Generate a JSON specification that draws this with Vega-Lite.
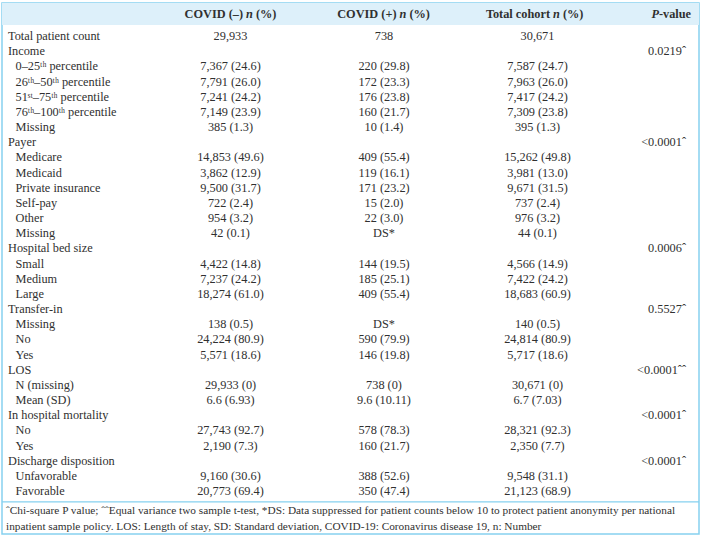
{
  "$schema": "https://vega.github.io/schema/vega-lite/v6.json",
  "width": 701,
  "height": 536,
  "autosize": {"type": "fit", "contains": "padding"},
  "padding": {"left": 1, "right": 1, "top": 3, "bottom": 2},
  "background": "white",
  "config": {
    "view": {"stroke": "#86d1ef", "strokeWidth": 1.5},
    "text": {"font": "Liberation Serif", "fontSize": 12.3, "color": "#303030"}
  },
  "datasets": {
    "table": [
      {"r": 0, "label": "Total patient count", "lvl": "g", "neg": "29,933", "pos": "738", "tot": "30,671", "p": ""},
      {"r": 1, "label": "Income", "lvl": "g", "neg": "", "pos": "", "tot": "", "p": "0.0219ˆ"},
      {"r": 2, "label": "0–25ᵗʰ percentile", "lvl": "s", "neg": "7,367 (24.6)", "pos": "220 (29.8)", "tot": "7,587 (24.7)", "p": ""},
      {"r": 3, "label": "26ᵗʰ–50ᵗʰ percentile", "lvl": "s", "neg": "7,791 (26.0)", "pos": "172 (23.3)", "tot": "7,963 (26.0)", "p": ""},
      {"r": 4, "label": "51ˢᵗ–75ᵗʰ percentile", "lvl": "s", "neg": "7,241 (24.2)", "pos": "176 (23.8)", "tot": "7,417 (24.2)", "p": ""},
      {"r": 5, "label": "76ᵗʰ–100ᵗʰ percentile", "lvl": "s", "neg": "7,149 (23.9)", "pos": "160 (21.7)", "tot": "7,309 (23.8)", "p": ""},
      {"r": 6, "label": "Missing", "lvl": "s", "neg": "385 (1.3)", "pos": "10 (1.4)", "tot": "395 (1.3)", "p": ""},
      {"r": 7, "label": "Payer", "lvl": "g", "neg": "", "pos": "", "tot": "", "p": "<0.0001ˆ"},
      {"r": 8, "label": "Medicare", "lvl": "s", "neg": "14,853 (49.6)", "pos": "409 (55.4)", "tot": "15,262 (49.8)", "p": ""},
      {"r": 9, "label": "Medicaid", "lvl": "s", "neg": "3,862 (12.9)", "pos": "119 (16.1)", "tot": "3,981 (13.0)", "p": ""},
      {"r": 10, "label": "Private insurance", "lvl": "s", "neg": "9,500 (31.7)", "pos": "171 (23.2)", "tot": "9,671 (31.5)", "p": ""},
      {"r": 11, "label": "Self-pay", "lvl": "s", "neg": "722 (2.4)", "pos": "15 (2.0)", "tot": "737 (2.4)", "p": ""},
      {"r": 12, "label": "Other", "lvl": "s", "neg": "954 (3.2)", "pos": "22 (3.0)", "tot": "976 (3.2)", "p": ""},
      {"r": 13, "label": "Missing", "lvl": "s", "neg": "42 (0.1)", "pos": "DS*", "tot": "44 (0.1)", "p": ""},
      {"r": 14, "label": "Hospital bed size", "lvl": "g", "neg": "", "pos": "", "tot": "", "p": "0.0006ˆ"},
      {"r": 15, "label": "Small", "lvl": "s", "neg": "4,422 (14.8)", "pos": "144 (19.5)", "tot": "4,566 (14.9)", "p": ""},
      {"r": 16, "label": "Medium", "lvl": "s", "neg": "7,237 (24.2)", "pos": "185 (25.1)", "tot": "7,422 (24.2)", "p": ""},
      {"r": 17, "label": "Large", "lvl": "s", "neg": "18,274 (61.0)", "pos": "409 (55.4)", "tot": "18,683 (60.9)", "p": ""},
      {"r": 18, "label": "Transfer-in", "lvl": "g", "neg": "", "pos": "", "tot": "", "p": "0.5527ˆ"},
      {"r": 19, "label": "Missing", "lvl": "s", "neg": "138 (0.5)", "pos": "DS*", "tot": "140 (0.5)", "p": ""},
      {"r": 20, "label": "No", "lvl": "s", "neg": "24,224 (80.9)", "pos": "590 (79.9)", "tot": "24,814 (80.9)", "p": ""},
      {"r": 21, "label": "Yes", "lvl": "s", "neg": "5,571 (18.6)", "pos": "146 (19.8)", "tot": "5,717 (18.6)", "p": ""},
      {"r": 22, "label": "LOS", "lvl": "g", "neg": "", "pos": "", "tot": "", "p": "<0.0001ˆˆ"},
      {"r": 23, "label": "N (missing)", "lvl": "s", "neg": "29,933 (0)", "pos": "738 (0)", "tot": "30,671 (0)", "p": ""},
      {"r": 24, "label": "Mean (SD)", "lvl": "s", "neg": "6.6 (6.93)", "pos": "9.6 (10.11)", "tot": "6.7 (7.03)", "p": ""},
      {"r": 25, "label": "In hospital mortality", "lvl": "g", "neg": "", "pos": "", "tot": "", "p": "<0.0001ˆ"},
      {"r": 26, "label": "No", "lvl": "s", "neg": "27,743 (92.7)", "pos": "578 (78.3)", "tot": "28,321 (92.3)", "p": ""},
      {"r": 27, "label": "Yes", "lvl": "s", "neg": "2,190 (7.3)", "pos": "160 (21.7)", "tot": "2,350 (7.7)", "p": ""},
      {"r": 28, "label": "Discharge disposition", "lvl": "g", "neg": "", "pos": "", "tot": "", "p": "<0.0001ˆ"},
      {"r": 29, "label": "Unfavorable", "lvl": "s", "neg": "9,160 (30.6)", "pos": "388 (52.6)", "tot": "9,548 (31.1)", "p": ""},
      {"r": 30, "label": "Favorable", "lvl": "s", "neg": "20,773 (69.4)", "pos": "350 (47.4)", "tot": "21,123 (68.9)", "p": ""}
    ],
    "header": [
      {"col": "neg", "pre": "COVID (–)"},
      {"col": "pos", "pre": "COVID (+)"},
      {"col": "tot", "pre": "Total cohort"}
    ],
    "notes": [
      {"r": 31.32, "t": "ˆChi-square P value; ˆˆEqual variance two sample t-test, *DS: Data suppressed for patient counts below 10 to protect patient anonymity per national"},
      {"r": 32.38, "t": "inpatient sample policy. LOS: Length of stay, SD: Standard deviation, COVID-19: Coronavirus disease 19, n: Number"}
    ]
  },
  "data": {"name": "table"},
  "layer": [
    {
      "data": {"values": [{"band": "header"}]},
      "mark": {"type": "rect", "color": "#ddf0fa"},
      "encoding": {
        "y": {"datum": -2.176, "type": "quantitative", "scale": {"domain": [-2.176, 32.835], "reverse": true, "nice": false, "zero": false}, "axis": null},
        "y2": {"datum": -0.725}
      }
    },
    {
      "data": {"values": [{"line": "sep"}]},
      "mark": {"type": "rule", "color": "#86d1ef", "strokeWidth": 1.2},
      "encoding": {"y": {"datum": 30.72, "type": "quantitative"}}
    },
    {
      "data": {"name": "header"},
      "mark": {"type": "text", "fontWeight": "bold", "align": "right", "dx": 12.5},
      "encoding": {
        "x": {"field": "col", "type": "nominal", "scale": {"type": "point", "domain": ["label", "neg", "pos", "tot", "p"], "range": [75, 689], "padding": 0}, "axis": null},
        "y": {"datum": -1.45, "type": "quantitative"},
        "text": {"field": "pre"}
      }
    },
    {
      "data": {"name": "header"},
      "mark": {"type": "text", "fontWeight": "bold", "fontStyle": "italic", "align": "center", "dx": 19},
      "encoding": {
        "x": {"field": "col", "type": "nominal"},
        "y": {"datum": -1.45, "type": "quantitative"},
        "text": {"value": "n"}
      }
    },
    {
      "data": {"name": "header"},
      "mark": {"type": "text", "fontWeight": "bold", "align": "left", "dx": 25.4},
      "encoding": {
        "x": {"field": "col", "type": "nominal"},
        "y": {"datum": -1.45, "type": "quantitative"},
        "text": {"value": "(%)"}
      }
    },
    {
      "data": {"values": [{"t": "-value"}]},
      "mark": {"type": "text", "fontWeight": "bold", "align": "right"},
      "encoding": {
        "x": {"datum": "p", "type": "nominal"},
        "y": {"datum": -1.45, "type": "quantitative"},
        "text": {"field": "t"}
      }
    },
    {
      "data": {"values": [{"t": "P"}]},
      "mark": {"type": "text", "fontWeight": "bold", "fontStyle": "italic", "align": "right", "dx": -32},
      "encoding": {
        "x": {"datum": "p", "type": "nominal"},
        "y": {"datum": -1.45, "type": "quantitative"},
        "text": {"field": "t"}
      }
    },
    {
      "transform": [{"filter": "datum.lvl === 'g'"}],
      "mark": {"type": "text", "align": "left", "dx": -69},
      "encoding": {
        "x": {"datum": "label", "type": "nominal"},
        "y": {"field": "r", "type": "quantitative"},
        "text": {"field": "label"}
      }
    },
    {
      "transform": [{"filter": "datum.lvl === 's'"}],
      "mark": {"type": "text", "align": "left", "dx": -61.5},
      "encoding": {
        "x": {"datum": "label", "type": "nominal"},
        "y": {"field": "r", "type": "quantitative"},
        "text": {"field": "label"}
      }
    },
    {
      "mark": {"type": "text", "align": "center"},
      "encoding": {
        "x": {"datum": "neg", "type": "nominal"},
        "y": {"field": "r", "type": "quantitative"},
        "text": {"field": "neg"}
      }
    },
    {
      "mark": {"type": "text", "align": "center"},
      "encoding": {
        "x": {"datum": "pos", "type": "nominal"},
        "y": {"field": "r", "type": "quantitative"},
        "text": {"field": "pos"}
      }
    },
    {
      "mark": {"type": "text", "align": "center"},
      "encoding": {
        "x": {"datum": "tot", "type": "nominal"},
        "y": {"field": "r", "type": "quantitative"},
        "text": {"field": "tot"}
      }
    },
    {
      "mark": {"type": "text", "align": "right", "dx": -5},
      "encoding": {
        "x": {"datum": "p", "type": "nominal"},
        "y": {"field": "r", "type": "quantitative"},
        "text": {"field": "p"}
      }
    },
    {
      "data": {"name": "notes"},
      "mark": {"type": "text", "align": "left", "dx": -71, "fontSize": 11.3},
      "encoding": {
        "x": {"datum": "label", "type": "nominal"},
        "y": {"field": "r", "type": "quantitative"},
        "text": {"field": "t"}
      }
    }
  ]
}
